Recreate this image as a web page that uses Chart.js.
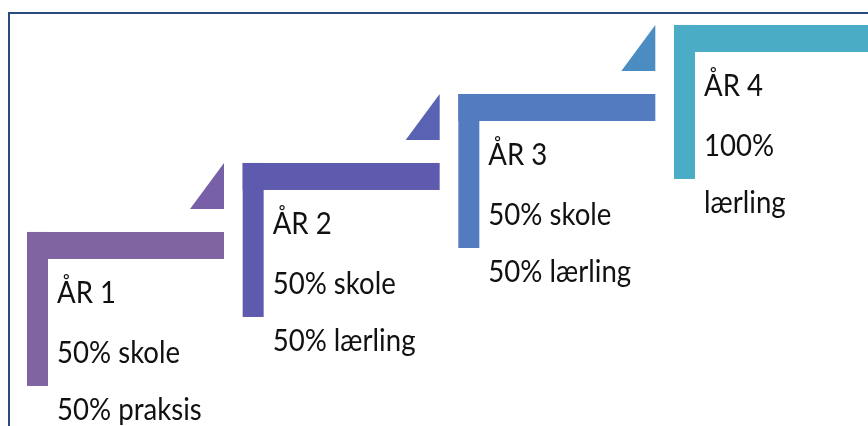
<!DOCTYPE html>
<html>
<head>
<meta charset="utf-8">
<script src="https://cdn.jsdelivr.net/npm/chart.js@4"></script>
<style>
  html, body { margin: 0; padding: 0; background: #ffffff; }
  canvas { display: block; }
</style>
</head>
<body>
<canvas id="stepsChart" width="868" height="426"></canvas>
<script>
// Step data (one step per year)
const stepLevels = [0, 1, 2, 3];
const stepTitles = ['ÅR 1', 'ÅR 2', 'ÅR 3', 'ÅR 4'];
const stepLine2 = ['50% skole', '50% skole', '50% skole', '100%'];
const stepLine3 = ['50% praksis', '50% lærling', '50% lærling', 'lærling'];
const stepColors = ['#8064a2', '#5e5aae', '#527cbf', '#4bacc6'];
const arrowColors = ['#7760a8', '#5a63b3', '#4b8dc3', '#4bacc6'];

// shape sizes in px
const STEP_W = 197;
const BAR_T = 27;
const POST_W = 21;
const POST_H = 154;
const TRI_W = 34;
const TRI_H = 46;
const TRI_GAP = 23;
const TEXT_DX = 30;
const LINE_Y = [71, 131, 188];
const FONT = '31px Lato, "Open Sans", sans-serif';
const TEXT_SQUEEZE = 0.89; // Calibri-like narrow look

const frameBorder = {
  id: 'frameBorder',
  beforeDraw(chart) {
    const ctx = chart.ctx;
    ctx.save();
    ctx.fillStyle = '#ffffff';
    ctx.fillRect(0, 0, chart.width, chart.height);
    ctx.strokeStyle = '#2b4a7d';
    ctx.lineWidth = 2;
    ctx.strokeRect(9, 13, chart.width, chart.height);
    ctx.restore();
  }
};

const stairSteps = {
  id: 'stairSteps',
  afterDatasetsDraw(chart) {
    const ctx = chart.ctx;
    const meta = chart.getDatasetMeta(0);
    ctx.save();
    meta.data.forEach((pt, i) => {
      const x = pt.x, y = pt.y;
      // L shape
      ctx.fillStyle = stepColors[i];
      ctx.fillRect(x, y, STEP_W, BAR_T);
      ctx.fillRect(x, y, POST_W, POST_H);
      // arrow head triangle (none after the last step)
      if (i < meta.data.length - 1) {
        const r = x + STEP_W;
        const b = y - TRI_GAP;
        ctx.fillStyle = arrowColors[i];
        ctx.beginPath();
        ctx.moveTo(r - TRI_W, b);
        ctx.lineTo(r, b);
        ctx.lineTo(r, b - TRI_H);
        ctx.closePath();
        ctx.fill();
      }
      // text
      ctx.fillStyle = '#111111';
      ctx.font = FONT;
      ctx.textBaseline = 'alphabetic';
      ctx.textAlign = 'left';
      const lines = [stepTitles[i], stepLine2[i], stepLine3[i]];
      lines.forEach((t, k) => {
        ctx.save();
        ctx.translate(x + TEXT_DX, y + LINE_Y[k]);
        ctx.scale(TEXT_SQUEEZE, 1);
        ctx.fillText(t, 0, 0);
        ctx.restore();
      });
    });
    ctx.restore();
  }
};

new Chart(document.getElementById('stepsChart'), {
  type: 'scatter',
  data: {
    datasets: [{
      data: stepLevels.map(v => ({ x: v, y: v })),
      pointRadius: 0,
      showLine: false
    }]
  },
  options: {
    responsive: false,
    animation: false,
    devicePixelRatio: 1,
    layout: { padding: 0 },
    plugins: {
      legend: { display: false },
      tooltip: { enabled: false }
    },
    scales: {
      x: { type: 'linear', min: -0.1252, max: 3.8996, display: false },
      y: { type: 'linear', min: -2.812, max: 3.362, display: false }
    }
  },
  plugins: [frameBorder, stairSteps]
});
</script>
</body>
</html>
